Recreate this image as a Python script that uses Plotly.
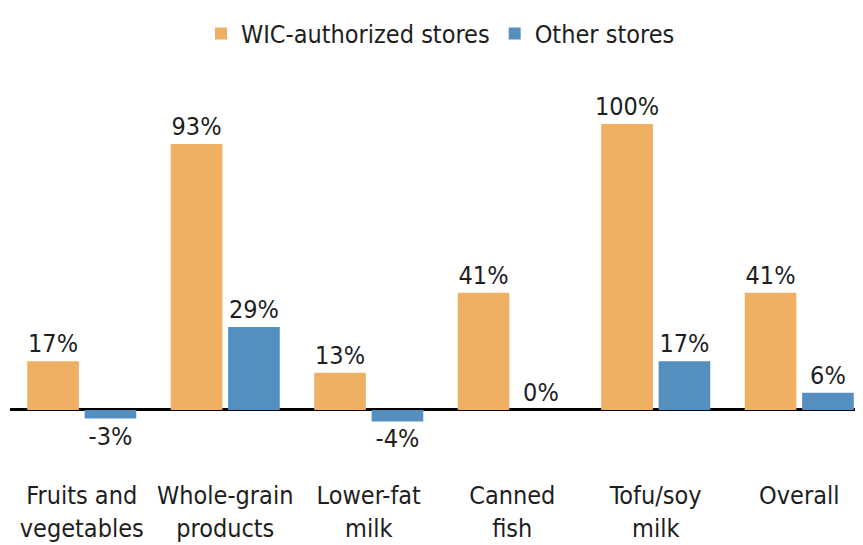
import plotly.graph_objects as go

categories = ["Fruits and<br>vegetables", "Whole-grain<br>products", "Lower-fat<br>milk",
              "Canned<br>fish", "Tofu/soy<br>milk", "Overall"]
wic_values = [17, 93, 13, 41, 100, 41]
other_values = [-3, 29, -4, 0, 17, 6]
series_names = ["WIC-authorized stores", "Other stores"]
colors = ["#F0B064", "#558FBF"]

FONT = "DejaVu Sans Condensed, Liberation Sans Narrow, Liberation Sans, sans-serif"
TXT = "#1e1e1e"
FS = 25

fig = go.Figure()
for name, vals, col in zip(series_names, [wic_values, other_values], colors):
    fig.add_trace(go.Bar(
        x=categories, y=vals, name=name,
        marker=dict(color=col, line=dict(width=0)),
        text=[f"{v}%" for v in vals], texttemplate="%{text}", textposition="outside",
        textfont=dict(family=FONT, size=FS, color=TXT),
        constraintext="none", cliponaxis=False, showlegend=False,
    ))
    fig.add_trace(go.Scatter(
        x=[None], y=[None], mode="markers", name=name,
        marker=dict(symbol="square", size=26, color=col),
        showlegend=True,
    ))

fig.update_layout(
    width=863, height=545,
    margin=dict(l=2, r=0, t=62, b=83, autoexpand=False),
    paper_bgcolor="white", plot_bgcolor="white",
    barmode="group", bargap=0.2, bargroupgap=0.1,
    font=dict(family=FONT, size=FS, color=TXT),
    legend=dict(orientation="h", x=0.5, xanchor="center", y=0.995, yanchor="top",
                yref="container", font=dict(family=FONT, size=FS, color=TXT),
                itemsizing="constant"),
)
fig.update_xaxes(range=[-0.5, 5.5], showgrid=False, showline=False, ticks="",
                 automargin=False, ticklabelstandoff=8,
                 tickfont=dict(family=FONT, size=FS, color=TXT), fixedrange=True)
fig.update_yaxes(range=[-21, 118.9], showgrid=False, showticklabels=False, automargin=False,
                 zeroline=True, zerolinecolor="black", zerolinewidth=3, fixedrange=True)

fig.write_html("out.html")
